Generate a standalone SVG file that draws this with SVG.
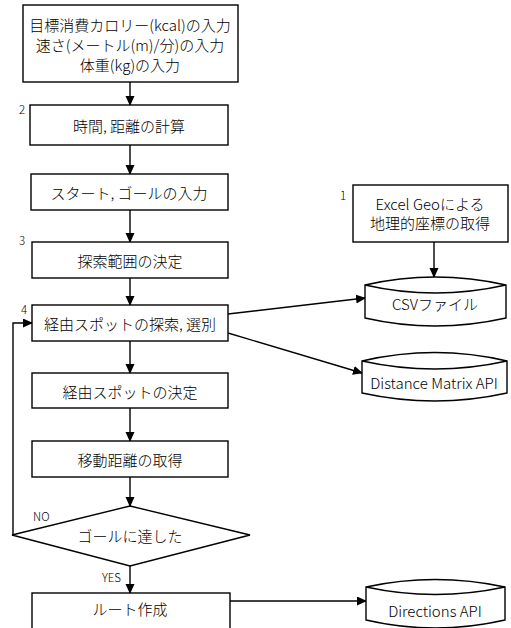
<svg xmlns="http://www.w3.org/2000/svg" width="511" height="628" viewBox="0 0 511 628">
<defs>
<style>
.box{fill:#fff;stroke:#000;stroke-width:1.4}
.ln{fill:none;stroke:#000;stroke-width:1.4}
text{font-family:"Noto Sans CJK JP","Noto Sans",sans-serif;font-size:15px;font-weight:300;fill:#000;text-anchor:middle;dominant-baseline:central}
.num{font-size:11.5px;text-anchor:start}
</style>
<marker id="ah" markerWidth="10" markerHeight="10" refX="9" refY="4.5" orient="auto" markerUnits="userSpaceOnUse">
<path d="M0,0 L10,4.5 L0,9 Z" fill="#000"/>
</marker>
</defs>
<rect width="511" height="628" fill="#fff"/>
<g id="connectors">
<line class="ln" x1="130" y1="82" x2="130" y2="105" marker-end="url(#ah)"/>
<line class="ln" x1="130" y1="145" x2="130" y2="174" marker-end="url(#ah)"/>
<line class="ln" x1="130" y1="210" x2="130" y2="242" marker-end="url(#ah)"/>
<line class="ln" x1="130" y1="278" x2="130" y2="305" marker-end="url(#ah)"/>
<line class="ln" x1="130" y1="341" x2="130" y2="373" marker-end="url(#ah)"/>
<line class="ln" x1="130" y1="408" x2="130" y2="441" marker-end="url(#ah)"/>
<line class="ln" x1="130" y1="477" x2="130" y2="506" marker-end="url(#ah)"/>
<line class="ln" x1="130" y1="566" x2="130" y2="593" marker-end="url(#ah)"/>
<polyline class="ln" points="12,535 13,535 13,323 32,323" marker-end="url(#ah)"/>
<line class="ln" x1="434" y1="242" x2="434" y2="277" marker-end="url(#ah)"/>
<line class="ln" x1="228" y1="314" x2="365" y2="298" marker-end="url(#ah)"/>
<line class="ln" x1="228" y1="333" x2="362" y2="373" marker-end="url(#ah)"/>
<line class="ln" x1="230" y1="601" x2="366" y2="601" marker-end="url(#ah)"/>
<text class="num" x="33" y="516">NO</text>
<text class="num" x="102" y="577">YES</text>
</g>
<g id="n-input">
<rect class="box" x="23" y="5" width="215" height="77"/>
<text x="130" y="24">目標消費カロリー(kcal)の入力</text>
<text x="130" y="44">速さ(メートル(m)/分)の入力</text>
<text x="130" y="64">体重(kg)の入力</text>
</g>
<g id="n-calc">
<text class="num" x="19" y="109">2</text>
<rect class="box" x="30" y="105" width="198" height="40"/>
<text x="129" y="125">時間, 距離の計算</text>
</g>
<g id="n-startgoal">
<rect class="box" x="31" y="174" width="197" height="36"/>
<text x="129" y="192">スタート, ゴールの入力</text>
</g>
<g id="n-range">
<text class="num" x="19" y="240">3</text>
<rect class="box" x="32" y="242" width="196" height="36"/>
<text x="130" y="260">探索範囲の決定</text>
</g>
<g id="n-search">
<text class="num" x="21" y="309">4</text>
<rect class="box" x="32" y="305" width="196" height="36"/>
<text x="130" y="323">経由スポットの探索, 選別</text>
</g>
<g id="n-decide">
<rect class="box" x="32" y="373" width="196" height="35"/>
<text x="130" y="391">経由スポットの決定</text>
</g>
<g id="n-dist">
<rect class="box" x="32" y="441" width="196" height="36"/>
<text x="130" y="459">移動距離の取得</text>
</g>
<g id="n-goal">
<polygon class="box" points="130,506 250,535 130,566 12,535"/>
<text x="130" y="535">ゴールに達した</text>
</g>
<g id="n-route">
<rect class="box" x="32" y="593" width="198" height="40"/>
<text x="130" y="608">ルート作成</text>
</g>
<g id="n-excel">
<text class="num" x="340" y="195">1</text>
<rect class="box" x="353" y="185" width="155" height="57"/>
<text x="430" y="203">Excel Geoによる</text>
<text x="430" y="222">地理的座標の取得</text>
</g>
<g id="n-csv">
<path class="box" d="M365,285 Q435,269 506,285 L506,318 Q435,334 365,318 Z"/>
<path class="ln" d="M365,285 Q435,301 506,285"/>
<text x="435" y="303">CSVファイル</text>
</g>
<g id="n-dm">
<path class="box" d="M362,361 Q435,344 507,361 L507,393 Q435,409 362,393 Z"/>
<path class="ln" d="M362,361 Q435,377 507,361"/>
<text x="434" y="382">Distance Matrix API</text>
</g>
<g id="n-dir">
<path class="box" d="M366,587 Q435,572 505,587 L505,620 Q435,636 366,620 Z"/>
<path class="ln" d="M366,587 Q435,602 505,587"/>
<text x="435" y="610">Directions API</text>
</g>
</svg>
